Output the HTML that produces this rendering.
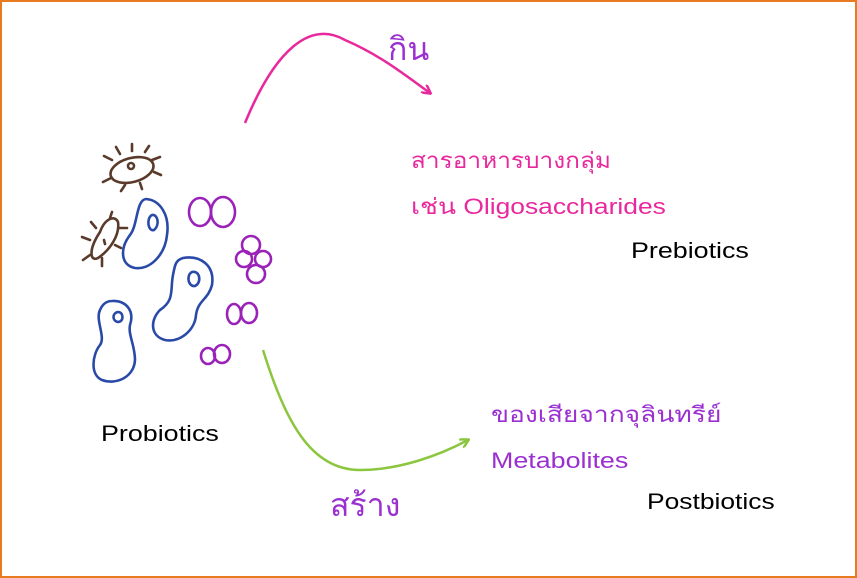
<!DOCTYPE html>
<html><head><meta charset="utf-8"><style>
html,body{margin:0;padding:0;background:#fff}
.f{position:relative;width:857px;height:578px;box-sizing:border-box;border:2px solid #e87a20;overflow:hidden;font-family:"Liberation Sans","Noto Sans CJK SC",sans-serif}
.t{position:absolute;white-space:nowrap;transform-origin:0 0}
</style></head><body><div class="f">
<svg width="857" height="578" style="position:absolute;left:-2px;top:-2px">
<defs>
<marker id="mp" markerWidth="10" markerHeight="10" refX="8" refY="5" orient="auto" markerUnits="userSpaceOnUse"><path d="M0,0 L9,5 L0,10" fill="none" stroke="#e8299e" stroke-width="2.5"/></marker>
<marker id="mg" markerWidth="10" markerHeight="10" refX="8" refY="5" orient="auto" markerUnits="userSpaceOnUse"><path d="M0,0 L9,5 L0,10" fill="none" stroke="#8cc63f" stroke-width="2.5"/></marker>
</defs>
<path d="M245,123 C275,50 310,20 345,40 C380,55 405,75 430,93" fill="none" stroke="#e8299e" stroke-width="2.5" marker-end="url(#mp)"/>
<path d="M263,350 C285,420 310,470 360,470 C400,470 440,455 468,440" fill="none" stroke="#8cc63f" stroke-width="2.5" marker-end="url(#mg)"/>
<g fill="none" stroke-width="2.6" stroke-linecap="round">
<g stroke="#5a3a2a">
<ellipse cx="132" cy="170" rx="22" ry="12" transform="rotate(-15 132 170)"/>
<circle cx="131" cy="166" r="3"/>
<path d="M112,160 l-8,-4 M120,154 l-4,-7 M132,151 l0,-7 M145,152 l4,-6 M152,160 l8,-3 M154,172 l7,3 M140,183 l2,6 M125,185 l-4,6 M111,178 l-8,4"/>
<path d="M100,232 C105,218 115,215 118,222 C120,235 110,250 98,258 C90,262 88,250 100,232Z"/>
<path d="M104,240 l1,4 M90,240 l-8,-3 M96,228 l-5,-6 M110,218 l2,-6 M120,228 l7,0 M115,245 l6,3 M102,258 l0,8 M90,255 l-7,5"/>
</g>
<g stroke="#2a4aa8">
<path d="M146,199 C160,200 170,215 167,235 C165,255 150,270 135,268 C120,265 120,248 130,235 C138,225 136,200 146,199Z"/>
<path d="M152,215 C158,214 160,225 154,230 C148,232 146,218 152,215Z"/>
<path d="M183,258 C200,255 215,265 212,285 C208,300 198,300 196,315 C195,330 180,343 165,340 C150,336 150,320 160,310 C175,300 170,290 173,275 C175,264 176,260 183,258Z"/>
<path d="M192,272 C200,270 202,283 195,286 C188,287 186,275 192,272Z"/>
<path d="M112,301 C125,300 135,310 130,325 C128,335 135,345 135,360 C134,378 115,385 102,380 C90,375 92,355 100,345 C106,337 95,320 100,310 C103,303 108,301 112,301Z"/>
<path d="M118,312 C124,312 124,322 118,322 C112,321 112,313 118,312Z"/>
</g>
<g stroke="#9a22b8">
<ellipse cx="200" cy="212" rx="11" ry="14"/><ellipse cx="223" cy="212" rx="12" ry="15"/>
<circle cx="251" cy="245" r="9"/><circle cx="244" cy="259" r="8"/><circle cx="263" cy="259" r="8"/><circle cx="256" cy="274" r="9"/>
<ellipse cx="234" cy="314" rx="7" ry="10"/><ellipse cx="249" cy="313" rx="8" ry="10"/>
<ellipse cx="208" cy="356" rx="7" ry="8"/><ellipse cx="222" cy="354" rx="8" ry="9"/>
</g>
</g>
</svg>
<div class="t" style="left:386px;top:22px;font-size:32px;color:#9b30d0">กิน</div>
<div class="t" style="left:409px;top:136px;font-size:22px;color:#e8299e;line-height:46px;transform:scaleX(1.11)">สารอาหารบางกลุ่ม</div>
<div class="t" style="left:409px;top:182px;font-size:22px;color:#e8299e;line-height:46px;transform:scaleX(1.2)">เช่น Oligosaccharides</div>
<div class="t" style="left:629px;top:236px;font-size:22px;color:#000;transform:scaleX(1.22)">Prebiotics</div>
<div class="t" style="left:99px;top:419px;font-size:22px;color:#000;transform:scaleX(1.22)">Probiotics</div>
<div class="t" style="left:489px;top:390px;font-size:22px;color:#9b30d0;line-height:46px;transform:scaleX(1.2)">ของเสียจากจุลินทรีย์</div>
<div class="t" style="left:489px;top:436px;font-size:22px;color:#9b30d0;line-height:46px;transform:scaleX(1.22)">Metabolites</div>
<div class="t" style="left:328px;top:478px;font-size:32px;color:#9b30d0">สร้าง</div>
<div class="t" style="left:645px;top:487px;font-size:22px;color:#000;transform:scaleX(1.2)">Postbiotics</div>
</div></body></html>
